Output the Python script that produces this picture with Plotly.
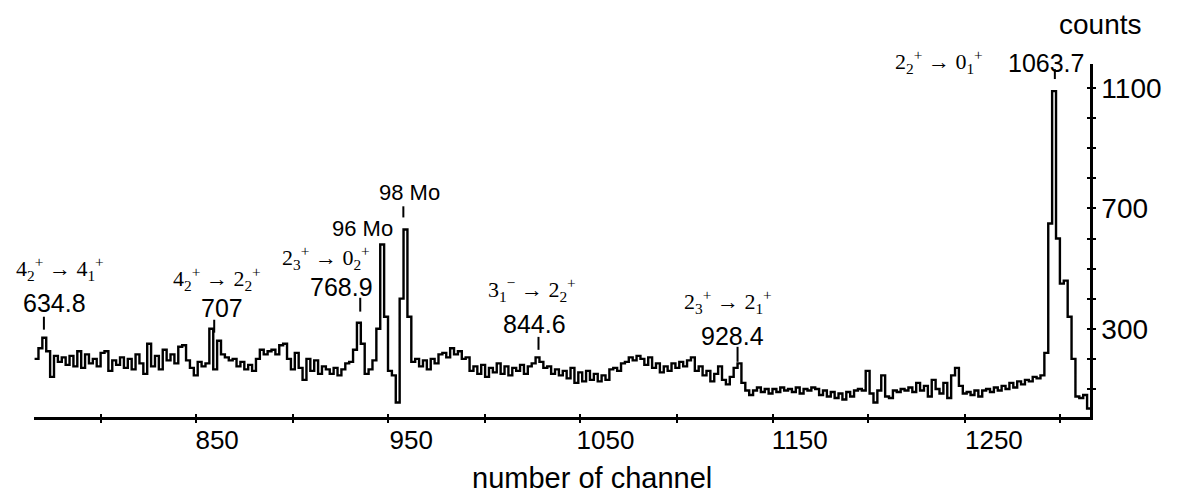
import plotly.graph_objects as go

# ---------------- data ----------------
channel_start = 756
bin_width = 2
counts = [
    200, 235, 270, 225, 140, 210, 190, 205, 180, 210,
    175, 225, 170, 215, 185, 200, 175, 220, 225, 160,
    195, 180, 205, 170, 200, 165, 215, 185, 150, 250,
    175, 210, 165, 230, 195, 215, 185, 240, 245, 195,
    170, 145, 190, 175, 185, 300, 165, 260, 215, 205,
    195, 200, 175, 190, 165, 180, 160, 200, 230, 215,
    225, 230, 215, 245, 250, 200, 165, 220, 170, 130,
    200, 160, 195, 150, 175, 165, 150, 170, 145, 165,
    185, 190, 230, 320, 250, 150, 165, 195, 300, 580,
    340, 160, 145, 55, 400, 630, 340, 190, 200, 175,
    195, 165, 200, 185, 215, 220, 205, 235, 215, 225,
    200, 205, 160, 175, 150, 180, 140, 170, 155, 185,
    150, 175, 145, 170, 160, 180, 150, 175, 185, 205,
    190, 170, 175, 150, 165, 145, 160, 135, 170, 120,
    155, 125, 160, 130, 150, 125, 145, 130, 165, 170,
    160, 185, 190, 205, 195, 210, 200, 180, 205, 170,
    185, 155, 175, 160, 185, 170, 190, 175, 195, 205,
    160, 175, 145, 160, 125, 150, 175, 130, 115, 140,
    170, 185, 120, 95, 80, 95, 105, 90, 100, 85,
    100, 90, 105, 95, 100, 90, 105, 85, 100, 95,
    105, 100, 80, 95, 75, 90, 70, 85, 65, 90,
    75, 95, 100, 95, 160, 85, 55, 95, 145, 75,
    70, 95, 90, 100, 95, 105, 90, 120, 95, 110,
    75, 130, 100, 85, 120, 70, 145, 170, 110, 85,
    90, 80, 95, 75, 95, 100, 90, 105, 95, 110,
    100, 120, 105, 125, 115, 130, 125, 140, 135, 145,
    220, 650, 1090, 600, 450, 460, 340, 200, 75, 70, 80, 35,
]

x_tick_labels = ["850", "950", "1050", "1150", "1250"]
x_label_values = [850, 950, 1050, 1150, 1250]
x_tick_marks = [790, 839, 889, 938, 988, 1037, 1087, 1136, 1185, 1235, 1284]
y_tick_values = [100, 200, 300, 400, 500, 600, 700, 800, 900, 1000, 1100]
y_tick_labels = ["", "", "300", "", "", "", "700", "", "", "", "1100"]

transitions = [
    "4<sub>2</sub><sup>+</sup> → 4<sub>1</sub><sup>+</sup>",
    "4<sub>2</sub><sup>+</sup> → 2<sub>2</sub><sup>+</sup>",
    "2<sub>3</sub><sup>+</sup> → 0<sub>2</sub><sup>+</sup>",
    "3<sub>1</sub><sup>−</sup> → 2<sub>2</sub><sup>+</sup>",
    "2<sub>3</sub><sup>+</sup> → 2<sub>1</sub><sup>+</sup>",
    "2<sub>2</sub><sup>+</sup> → 0<sub>1</sub><sup>+</sup>",
]
energies = ["634.8", "707", "768.9", "844.6", "928.4", "1063.7"]
isotopes = ["96 Mo", "98 Mo"]

# ---------------- layout positions ----------------
# (channel, counts) for labels inside the plot; last transition/energy in paper coords
trans_pos = [(769, 500), (850, 466), (906, 537), (1012, 430), (1113, 392), (0.857, 1.008)]
energy_pos = [(766, 385), (852.6, 370), (914, 438), (1013.4, 315), (1115.5, 275), (0.958, 1.003)]
marker_lines = [(760.8, 297, 340), (848.5, 287, 330), (923.7, 357, 403),
                (1015.5, 230, 273), (1118, 190, 240), (1281.4, 1130, 1163), (945.9, 670, 707)]
iso_pos = [(924.7, 632), (949, 752)]

xs = [channel_start + bin_width * i for i in range(len(counts) + 1)]
ys = counts + [counts[-1]]

fig = go.Figure()
fig.add_trace(go.Scatter(x=xs, y=ys, mode="lines", line=dict(color="black", width=2.4, shape="hv"),
                         showlegend=False, hoverinfo="skip"))
fig.add_trace(go.Scatter(x=[xs[0]], y=[ys[0]], xaxis="x2", yaxis="y2", mode="markers",
                         marker=dict(opacity=0), showlegend=False, hoverinfo="skip"))

xr = [755.7, 1299.5]
yr = [6.7, 1180]

sans = "Liberation Sans, Arial, sans-serif"
serif = "Liberation Serif, Times New Roman, serif"

annotations = []
n = len(transitions)
for k, (t, (cx, cy)) in enumerate(zip(transitions, trans_pos)):
    ref = ("paper", "paper") if k == n - 1 else ("x", "y")
    annotations.append(dict(x=cx, y=cy, xref=ref[0], yref=ref[1], text=t, showarrow=False,
                            font=dict(family=serif, size=22, color="black"),
                            xanchor="center", yanchor="middle"))
for k, (t, (cx, cy)) in enumerate(zip(energies, energy_pos)):
    ref = ("paper", "paper") if k == n - 1 else ("x", "y")
    annotations.append(dict(x=cx, y=cy, xref=ref[0], yref=ref[1], text=t, showarrow=False,
                            font=dict(family=sans, size=25, color="black"),
                            xanchor="center", yanchor="middle"))
for t, (cx, cy) in zip(isotopes, iso_pos):
    annotations.append(dict(x=cx, y=cy, xref="x", yref="y", text=t, showarrow=False,
                            font=dict(family=sans, size=22, color="black"),
                            xanchor="center", yanchor="middle"))
annotations.append(dict(x=1.0095, y=1.113, xref="paper", yref="paper", text="counts",
                        showarrow=False, font=dict(family=sans, size=28, color="black"),
                        xanchor="center", yanchor="middle"))
annotations.append(dict(x=0.528, y=-0.2225, xref="paper", yref="paper", text="number of channel",
                        showarrow=False, font=dict(family=sans, size=29, color="black"),
                        xanchor="center", yanchor="bottom"))

shapes = []
for (cx, y0, y1) in marker_lines:
    shapes.append(dict(type="line", xref="x", yref="y", x0=cx, x1=cx, y0=y0, y1=y1,
                       line=dict(color="black", width=2)))

fig.update_layout(
    width=1181, height=497,
    margin=dict(l=34, r=91, t=64, b=80),
    paper_bgcolor="white", plot_bgcolor="white",
    xaxis=dict(range=xr, showline=True, linecolor="black", linewidth=2.5, showgrid=False,
               zeroline=False, tickmode="array", tickvals=x_tick_marks, ticks="outside",
               ticklen=3, tickwidth=2, tickcolor="black", showticklabels=False),
    xaxis2=dict(range=xr, overlaying="x", anchor="y", side="bottom", showline=False,
                showgrid=False, zeroline=False, tickmode="array", tickvals=x_label_values,
                ticktext=x_tick_labels, ticks="", ticklabelstandoff=5,
                tickfont=dict(family=sans, size=26, color="black"),
                minor=dict(tickmode="array", tickvals=x_tick_marks, ticks="inside", ticklen=3,
                           tickwidth=2, tickcolor="black", showgrid=False)),
    yaxis=dict(range=yr, side="right", showline=True, linecolor="black", linewidth=2.5,
               showgrid=False, zeroline=False, tickmode="array", tickvals=y_tick_values,
               ticktext=y_tick_labels, ticks="outside", ticklen=3, tickwidth=2, tickcolor="black",
               tickfont=dict(family=sans, size=28, color="black")),
    yaxis2=dict(range=yr, overlaying="y", side="right", anchor="x", showline=False,
                showgrid=False, zeroline=False, tickmode="array", tickvals=y_tick_values,
                ticks="inside", ticklen=3, tickwidth=2, tickcolor="black", showticklabels=False),
    annotations=annotations,
    shapes=shapes,
)

fig.write_html("out.html")
